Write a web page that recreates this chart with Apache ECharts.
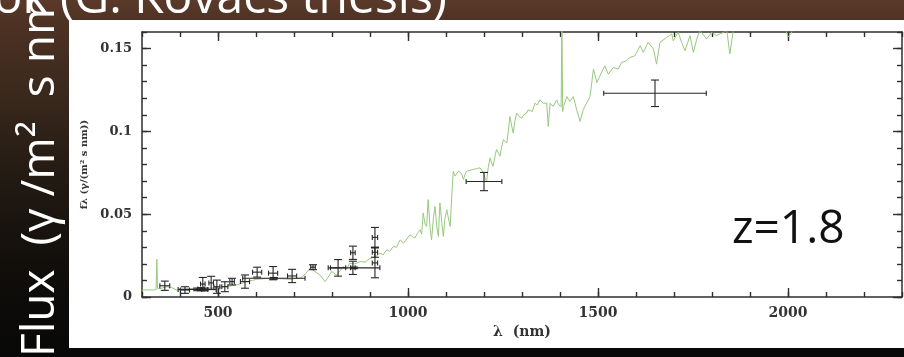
<!DOCTYPE html>
<html>
<head>
<meta charset="utf-8">
<script src="https://cdn.jsdelivr.net/npm/echarts@6/dist/echarts.min.js"></script>
<style>
  html, body { margin: 0; padding: 0; background: #080808; }
  #slide {
    position: relative; width: 904px; height: 357px; overflow: hidden;
    background: linear-gradient(180deg, #5a3a2a 0%, #4e3224 6%, #3b291d 25%, #221a13 50%, #110e0b 75%, #080808 100%);
  }
  #panel { position: absolute; left: 69px; top: 20px; width: 835px; height: 328px; background: #fff; }
  #chart { position: absolute; left: 0; top: 0; width: 904px; height: 357px; }
</style>
</head>
<body>
<div id="slide">
  <div id="panel"></div>
  <div id="chart"></div>
</div>
<script>
// model spectrum (green line), wavelength in nm, flux in photons/(m2 s nm)
const specWave = [300, 315, 330, 337, 339, 341, 350, 365, 380, 391, 410, 426, 448, 470, 492, 514, 532, 549, 563, 576,
  590, 602, 624, 646, 668, 689, 705, 716, 730, 742, 755, 768, 782, 790, 799, 812, 822, 830, 838, 847,
  860, 874, 887, 900, 913, 926, 935, 944, 952, 961, 970, 979, 988, 997, 1005, 1012, 1018, 1025, 1032, 1036,
  1040, 1045, 1049, 1053, 1058, 1062, 1067, 1071, 1076, 1080, 1084, 1089, 1093, 1097, 1102, 1106, 1111, 1115, 1119, 1124,
  1128, 1133, 1137, 1141, 1146, 1150, 1154, 1163, 1172, 1180, 1189, 1194, 1198, 1203, 1207, 1211, 1216, 1220, 1224, 1229,
  1233, 1238, 1242, 1246, 1251, 1255, 1260, 1264, 1268, 1273, 1277, 1281, 1286, 1292, 1299, 1305, 1312, 1316, 1321, 1327,
  1334, 1340, 1347, 1356, 1361, 1365, 1369, 1374, 1382, 1391, 1397, 1403, 1405, 1407, 1409, 1418, 1426, 1435, 1444, 1453,
  1461, 1470, 1479, 1488, 1497, 1505, 1518, 1527, 1540, 1553, 1562, 1575, 1584, 1597, 1611, 1619, 1632, 1646, 1654, 1663,
  1681, 1694, 1698, 1711, 1720, 1729, 1742, 1751, 1760, 1768, 1786, 1799, 1812, 1830, 1839, 1847, 1856, 1880, 1920, 1960,
  1990, 2000, 2008, 2020, 2060, 2120, 2200, 2300];
const specFlux = [0.0042, 0.0043, 0.0042, 0.0045, 0.0228, 0.005, 0.0052, 0.0062, 0.0055, 0.0042, 0.0046, 0.0048, 0.005, 0.0053, 0.0056, 0.0062, 0.0066, 0.0073, 0.0082, 0.0093,
  0.01, 0.0107, 0.0111, 0.0113, 0.011, 0.0107, 0.0112, 0.0113, 0.014, 0.0174, 0.0154, 0.0133, 0.0093, 0.012, 0.0154, 0.0133, 0.016, 0.0184, 0.017, 0.0204,
  0.02, 0.0214, 0.021, 0.0234, 0.024, 0.0265, 0.0255, 0.0285, 0.0275, 0.0305, 0.03, 0.0345, 0.0325, 0.035, 0.0376, 0.0365, 0.0356, 0.0385, 0.0406, 0.038,
  0.0507, 0.044, 0.0426, 0.0588, 0.042, 0.0345, 0.048, 0.0547, 0.042, 0.0366, 0.0568, 0.045, 0.0366, 0.047, 0.0527, 0.048, 0.0426, 0.06, 0.0759, 0.073,
  0.0739, 0.076, 0.077, 0.0745, 0.0709, 0.074, 0.0759, 0.0765, 0.077, 0.0775, 0.078, 0.0765, 0.075, 0.0715, 0.0699, 0.078, 0.084, 0.081, 0.079, 0.085,
  0.089, 0.087, 0.085, 0.09, 0.095, 0.094, 0.093, 0.1, 0.109, 0.103, 0.099, 0.106, 0.111, 0.109, 0.108, 0.11, 0.111, 0.113, 0.114, 0.112,
  0.117, 0.116, 0.119, 0.117, 0.116, 0.117, 0.103, 0.117, 0.115, 0.119, 0.116, 0.115, 0.17, 0.112, 0.115, 0.121, 0.118, 0.121, 0.113, 0.106,
  0.113, 0.117, 0.121, 0.1376, 0.1295, 0.1335, 0.1396, 0.1345, 0.1386, 0.1376, 0.1416, 0.1426, 0.1447, 0.1456, 0.1517, 0.1477, 0.1537, 0.1497, 0.1406, 0.1537,
  0.1568, 0.1588, 0.1547, 0.1598, 0.1537, 0.1487, 0.1578, 0.1477, 0.1558, 0.161, 0.1558, 0.1598, 0.1578, 0.1598, 0.161, 0.1467, 0.161, 0.166, 0.17, 0.169,
  0.164, 0.157, 0.159, 0.166, 0.172, 0.175, 0.178, 0.18];

// photometric points with error bars
const ptWave = [360, 413, 445, 455, 465, 460, 482, 497, 518, 537, 571, 603, 645, 695, 647, 750, 816, 855, 855, 913, 913, 913, 858, 1200, 1650];
const ptFlux = [0.0068, 0.0042, 0.0046, 0.0048, 0.0046, 0.0078, 0.0085, 0.0062, 0.0062, 0.0093, 0.0093, 0.015, 0.0144, 0.0127, 0.0113, 0.018, 0.0176, 0.0267, 0.0176, 0.036, 0.0206, 0.027, 0.0176, 0.0697, 0.123];
const ptWaveErr = [13, 12, 50, 8, 8, 6, 6, 8, 8, 6, 12, 12, 12, 12, 82, 6, 20, 6, 6, 7, 7, 7, 68, 47, 135];
const ptFluxErr = [0.0028, 0.002, 0.0008, 0.0008, 0.0008, 0.004, 0.004, 0.004, 0.003, 0.002, 0.004, 0.003, 0.004, 0.004, 0.0005, 0.0015, 0.005, 0.004, 0.004, 0.006, 0.009, 0.003, 0.0005, 0.0055, 0.008];

const xMajor = [500, 1000, 1500, 2000];
const yMajor = [0, 0.05, 0.1, 0.15];

const chart = echarts.init(document.getElementById('chart'));

const axisColor = '#2e2e2e';
const tickStyle = { color: axisColor, width: 1.4 };
const labelFont = { fontFamily: 'DejaVu Serif', fontWeight: 'bold', fontSize: 14, color: '#333333' };

function majorX(pos, withLabel) {
  return {
    type: 'value', min: 300, max: 2300, position: pos,
    axisLine: { show: true, onZero: false, lineStyle: { color: axisColor, width: 1.5 } },
    axisTick: { inside: true, length: 9, customValues: xMajor, lineStyle: tickStyle },
    axisLabel: withLabel
      ? Object.assign({ customValues: xMajor, margin: 9, formatter: v => String(v) }, labelFont)
      : { show: false },
    splitLine: { show: false }
  };
}
function minorX(pos) {
  return {
    type: 'value', min: 300, max: 2300, interval: 100, position: pos,
    axisLine: { show: false, onZero: false },
    axisTick: { inside: true, length: 5, lineStyle: tickStyle },
    axisLabel: { show: false }, splitLine: { show: false }
  };
}
function majorY(pos, withLabel) {
  return {
    type: 'value', min: 0, max: 0.16, position: pos,
    axisLine: { show: true, onZero: false, lineStyle: { color: axisColor, width: 1.5 } },
    axisTick: { inside: true, length: 9, customValues: yMajor, lineStyle: tickStyle },
    axisLabel: withLabel
      ? Object.assign({ customValues: yMajor, margin: 10, formatter: v => String(v) }, labelFont, { fontSize: 13 })
      : { show: false },
    splitLine: { show: false }
  };
}
function minorY(pos) {
  return {
    type: 'value', min: 0, max: 0.16, interval: 0.01, position: pos,
    axisLine: { show: false, onZero: false },
    axisTick: { inside: true, length: 5, lineStyle: tickStyle },
    axisLabel: { show: false }, splitLine: { show: false }
  };
}

const xBottom = majorX('bottom', true);
xBottom.name = 'λ  (nm)';
xBottom.nameLocation = 'middle';
xBottom.nameGap = 27;
xBottom.nameTextStyle = Object.assign({}, labelFont, { fontSize: 14 });

const yLeft = majorY('left', true);
yLeft.name = 'fλ (γ/(m² s nm))';
yLeft.nameLocation = 'middle';
yLeft.nameGap = 52;
yLeft.nameTextStyle = Object.assign({}, labelFont, { fontSize: 10 });

function renderErrorBar(params, api) {
  const x = api.value(0), y = api.value(1);
  const dx = api.value(2), dy = api.value(3);
  const l = api.coord([x - dx, y]);
  const r = api.coord([x + dx, y]);
  const t = api.coord([x, y + dy]);
  const b = api.coord([x, y - dy]);
  const seg = (x1, y1, x2, y2) => ({
    type: 'line', shape: { x1, y1, x2, y2 },
    style: { stroke: '#262626', lineWidth: 1.1 }
  });
  return {
    type: 'group',
    children: [
      seg(l[0], l[1], r[0], r[1]),
      seg(l[0], l[1] - 2.5, l[0], l[1] + 2.5),
      seg(r[0], r[1] - 2.5, r[0], r[1] + 2.5),
      seg(t[0], t[1], b[0], b[1]),
      seg(t[0] - 4, t[1], t[0] + 4, t[1]),
      seg(b[0] - 4, b[1], b[0] + 4, b[1])
    ]
  };
}

const option = {
  backgroundColor: 'transparent',
  animation: false,
  grid: { left: 142, right: 2, top: 32, bottom: 60 },
  xAxis: [xBottom, minorX('bottom'), majorX('top', false), minorX('top')],
  yAxis: [yLeft, minorY('left'), majorY('right', false), minorY('right')],
  graphic: [
    {
      type: 'text', x: 447, y: -1, z: 100,
      style: { text: 'Spektrumok (G. Kovács thesis)', fill: '#ffffff', font: '48px "Open Sans"',
        textAlign: 'right', textVerticalAlign: 'middle', align: 'right', verticalAlign: 'middle' }
    },
    {
      type: 'text', x: 41, y: 168, rotation: Math.PI / 2, z: 100,
      style: { text: 'Flux  (γ /m²  s nm)', fill: '#ffffff', font: '46px "Open Sans"',
        textAlign: 'center', textVerticalAlign: 'middle', align: 'center', verticalAlign: 'middle' }
    },
    {
      type: 'text', x: 732, y: 230, z: 100,
      style: { text: 'z=1.8', fill: '#111111', font: '46px "Open Sans"',
        textAlign: 'left', textVerticalAlign: 'middle', align: 'left', verticalAlign: 'middle' }
    }
  ],
  series: [
    {
      type: 'line',
      xAxisIndex: 0, yAxisIndex: 0,
      data: specWave.map((w, i) => [w, specFlux[i]]),
      showSymbol: false,
      clip: true,
      lineStyle: { color: '#98c87e', width: 1 },
      z: 2
    },
    {
      type: 'custom',
      xAxisIndex: 0, yAxisIndex: 0,
      renderItem: renderErrorBar,
      data: ptWave.map((w, i) => [w, ptFlux[i], ptWaveErr[i], ptFluxErr[i]]),
      encode: { x: 0, y: 1 },
      clip: true,
      z: 3
    },
    {
      type: 'scatter',
      xAxisIndex: 0, yAxisIndex: 0,
      data: [[862, 0.0333]],
      symbolSize: 1,
      itemStyle: { opacity: 0 },
      label: { show: true, position: 'inside', formatter: '1.8', color: '#8fbd72',
        fontFamily: 'DejaVu Sans', fontWeight: 'bold', fontSize: 11 },
      z: 4
    }
  ]
};

chart.setOption(option);
</script>
</body>
</html>
